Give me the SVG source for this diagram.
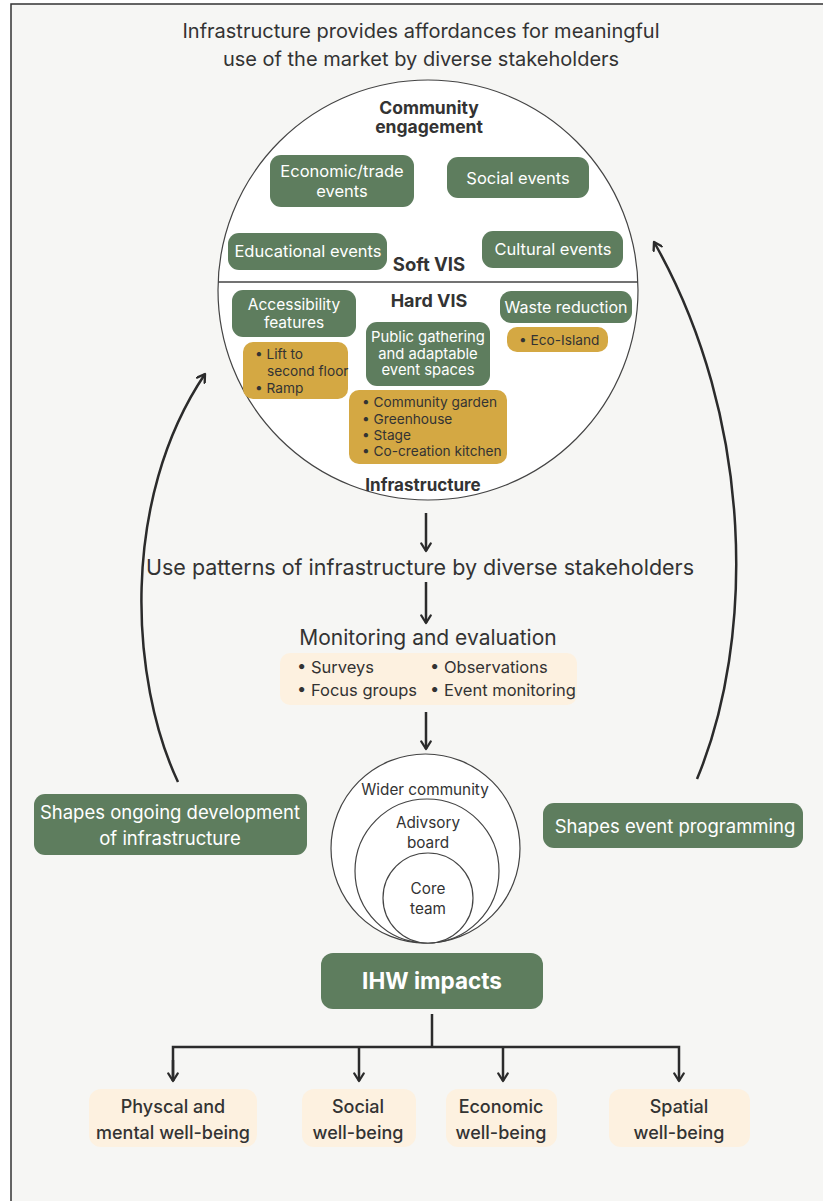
<svg xmlns="http://www.w3.org/2000/svg" width="823" height="1201" viewBox="0 0 823 1201">
<style>
text{font-family:Inter,"Noto Sans","Liberation Sans",sans-serif;fill:#333;}
.c{text-anchor:middle;}
.w{fill:#fff;}
.b{font-weight:700;}
.m{font-weight:500;}
.g{fill:#5e7d5e;}
.o{fill:#d4a843;}
.cr{fill:#fdf1e0;}
.ln{stroke:#2b2b2b;stroke-width:2.5;fill:none;}
.circ{fill:#fff;stroke:#444;stroke-width:1.2;}
</style>
<defs>
<marker id="ah" viewBox="0 0 12 12" refX="10" refY="6" markerWidth="4.5" markerHeight="4.5" orient="auto" markerUnits="strokeWidth">
<path d="M2,1 L10,6 L2,11" fill="none" stroke="#2b2b2b" stroke-width="2.5" stroke-linecap="round" stroke-linejoin="round"/>
</marker>
</defs>
<rect x="0" y="0" width="823" height="1201" fill="#fff"/>
<rect x="11" y="4" width="830" height="1210" fill="#f6f6f4" stroke="#333" stroke-width="1.5"/>
<g id="title">
<text class="c" x="421" y="38" font-size="20">Infrastructure provides affordances for  meaningful</text>
<text class="c" x="421" y="66" font-size="20">use of the market by diverse stakeholders</text>
</g>
<g id="main-circle">
<circle class="circ" cx="428" cy="290" r="210"/>
<line x1="218" y1="282" x2="638" y2="282" stroke="#444" stroke-width="1.5"/>
<text class="c b" x="429" y="114" font-size="17.5">Community</text>
<text class="c b" x="429" y="133" font-size="17.5">engagement</text>
<text class="c b" x="429" y="271" font-size="18.5">Soft VIS</text>
<text class="c b" x="429" y="307" font-size="18">Hard VIS</text>
<text class="c b" x="423" y="491" font-size="17">Infrastructure</text>
</g>
<g id="economic"><rect class="g" x="270" y="155" width="144" height="52" rx="11"/><text class="c w" x="342" y="177" font-size="16.5">Economic/trade</text><text class="c w" x="342" y="197" font-size="16.5">events</text></g>
<g id="social-events"><rect class="g" x="447" y="157" width="142" height="41" rx="11"/><text class="c w" x="518" y="184" font-size="16.5">Social events</text></g>
<g id="educational"><rect class="g" x="228" y="233" width="159" height="37" rx="11"/><text class="c w" x="308" y="257" font-size="16.5">Educational events</text></g>
<g id="cultural"><rect class="g" x="482" y="231" width="141" height="37" rx="11"/><text class="c w" x="553" y="255" font-size="16.5">Cultural events</text></g>
<g id="accessibility"><rect class="g" x="232" y="290" width="124" height="47" rx="11"/><text class="c w" x="294" y="310" font-size="15.5">Accessibility</text><text class="c w" x="294" y="328" font-size="15.5">features</text></g>
<g id="lift"><rect class="o" x="243" y="342" width="105" height="57" rx="10"/><text x="255" y="359" font-size="13.7">• Lift to</text><text x="267" y="376" font-size="13.7">second floor</text><text x="255" y="393" font-size="13.7">• Ramp</text></g>
<g id="public"><rect class="g" x="366" y="322" width="124" height="64" rx="11"/><text class="c w" x="428" y="342" font-size="14.8">Public gathering</text><text class="c w" x="428" y="358.5" font-size="14.8">and adaptable</text><text class="c w" x="428" y="375" font-size="14.8">event spaces</text></g>
<g id="garden"><rect class="o" x="349" y="390" width="158" height="74" rx="10"/><text x="362" y="407" font-size="13.7">• Community garden</text><text x="362" y="424" font-size="13.7">• Greenhouse</text><text x="362" y="440" font-size="13.7">• Stage</text><text x="362" y="456" font-size="13.7">• Co-creation kitchen</text></g>
<g id="waste"><rect class="g" x="500" y="291" width="132" height="32" rx="11"/><text class="c w" x="566" y="313" font-size="16">Waste reduction</text></g>
<g id="eco"><rect class="o" x="507" y="327" width="101" height="25" rx="10"/><text x="519" y="345" font-size="13.7">• Eco-Island</text></g>
<g id="use-patterns"><text class="c" x="420" y="575" font-size="21.5">Use patterns of infrastructure by diverse stakeholders</text></g>
<g id="monitoring">
<text class="c" x="428" y="645" font-size="21">Monitoring and evaluation</text>
<rect class="cr" x="280" y="653" width="297" height="52" rx="10"/>
<text x="297" y="673" font-size="16.5">• Surveys</text>
<text x="297" y="696" font-size="16.5">• Focus groups</text>
<text x="430" y="673" font-size="16.5">• Observations</text>
<text x="430" y="696" font-size="16.5">• Event monitoring</text>
</g>
<g id="stakeholders">
<circle class="circ" cx="425.5" cy="848.5" r="94.5"/>
<circle class="circ" cx="427" cy="871" r="72"/>
<circle class="circ" cx="428" cy="898" r="45"/>
<text class="c" x="425" y="795" font-size="15.3">Wider community</text>
<text class="c" x="428" y="828" font-size="15.3">Adivsory</text>
<text class="c" x="428" y="848" font-size="15.3">board</text>
<text class="c" x="428" y="894" font-size="15.3">Core</text>
<text class="c" x="428" y="914" font-size="15.3">team</text>
</g>
<g id="ihw"><rect class="g" x="321" y="953" width="222" height="56" rx="12"/><text class="c w b" x="432" y="989" font-size="22.5">IHW impacts</text></g>
<g id="shapes-dev"><rect class="g" x="34" y="794" width="273" height="61" rx="11"/><text class="c w" x="170" y="819" font-size="18.5">Shapes ongoing development</text><text class="c w" x="170" y="845" font-size="18.5">of infrastructure</text></g>
<g id="shapes-event"><rect class="g" x="543" y="803" width="260" height="45" rx="11"/><text class="c w" x="675" y="833" font-size="18.5">Shapes event programming</text></g>
<g id="physical"><rect class="cr" x="89" y="1089" width="168" height="58" rx="12"/><text class="c m" x="173" y="1113" font-size="18">Physcal and</text><text class="c m" x="173" y="1139" font-size="18">mental well-being</text></g>
<g id="social-wb"><rect class="cr" x="302" y="1089" width="114" height="58" rx="12"/><text class="c m" x="358" y="1113" font-size="18">Social</text><text class="c m" x="358" y="1139" font-size="18">well-being</text></g>
<g id="economic-wb"><rect class="cr" x="446" y="1089" width="111" height="58" rx="12"/><text class="c m" x="501" y="1113" font-size="18">Economic</text><text class="c m" x="501" y="1139" font-size="18">well-being</text></g>
<g id="spatial-wb"><rect class="cr" x="609" y="1089" width="141" height="58" rx="12"/><text class="c m" x="679" y="1113" font-size="18">Spatial</text><text class="c m" x="679" y="1139" font-size="18">well-being</text></g>
<g id="connectors">
<line class="ln" x1="426" y1="513" x2="426" y2="551" marker-end="url(#ah)"/>
<line class="ln" x1="426" y1="582" x2="426" y2="623" marker-end="url(#ah)"/>
<line class="ln" x1="426" y1="712" x2="426" y2="749" marker-end="url(#ah)"/>
<path class="ln" d="M178,782 C130,680 120,500 205,374" marker-end="url(#ah)"/>
<path class="ln" d="M697,779 C755,640 755,420 654,242" marker-end="url(#ah)"/>
<polyline class="ln" points="432,1014 432,1047"/>
<polyline class="ln" points="173,1081 173,1047 679,1047 679,1081" marker-end="url(#ah)"/>
<line class="ln" x1="173" y1="1060" x2="173" y2="1081" marker-end="url(#ah)"/>
<line class="ln" x1="359" y1="1047" x2="359" y2="1081" marker-end="url(#ah)"/>
<line class="ln" x1="503" y1="1047" x2="503" y2="1081" marker-end="url(#ah)"/>
</g>
</svg>
